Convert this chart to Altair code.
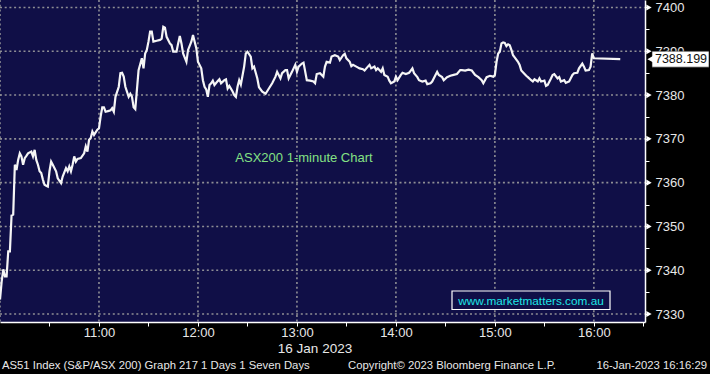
import altair as alt
import pandas as pd

# ---- data (minutes after 10:00, index level) ----
minutes = [0, 1, 2, 3, 4, 5, 6, 7, 8, 9, 10, 11, 12, 13, 14, 15, 16, 17, 19, 20,
           21, 22, 23, 24, 25, 26, 27, 28, 29, 30, 31, 32, 34, 35, 37, 38, 40, 41, 42, 43,
           44, 45, 46, 47, 49, 51, 52, 53, 54, 55, 56, 57, 59, 60, 61, 62, 63, 64, 66, 67,
           68, 69, 70, 72, 73, 74, 75, 76, 78, 79, 80, 81, 82, 83, 84, 86, 87, 88, 89, 90,
           91, 92, 93, 95, 97, 98, 99, 100, 101, 103, 104, 105, 107, 108, 109, 110, 111, 113, 114, 116,
           117, 118, 119, 120, 122, 123, 124, 125, 126, 127, 128, 129, 130, 132, 133, 134, 136, 137, 138, 139,
           141, 142, 143, 144, 145, 146, 148, 149, 150, 152, 153, 154, 156, 157, 159, 161, 163, 165, 167, 168,
           170, 171, 173, 174, 175, 177, 179, 180, 181, 183, 184, 186, 188, 190, 191, 192, 194, 196, 197, 198,
           200, 201, 203, 205, 206, 208, 209, 210, 212, 213, 214, 216, 218, 220, 221, 223, 224, 225, 227, 228,
           229, 231, 232, 233, 235, 236, 237, 239, 240, 241, 243, 244, 246, 248, 249, 250, 251, 253, 254, 256,
           258, 259, 261, 262, 264, 265, 266, 268, 269, 271, 273, 275, 277, 279, 280, 282, 284, 286, 288, 290,
           292, 293, 295, 297, 299, 300, 301, 302, 303, 304, 305, 306, 307, 308, 309, 310, 311, 312, 314, 315,
           316, 318, 319, 320, 322, 323, 324, 326, 327, 328, 330, 331, 332, 334, 335, 336, 338, 339, 340, 342,
           343, 345, 347, 348, 350, 351, 353, 354, 355, 357, 358, 359, 360, 376]
prices = [7333.3, 7337.4, 7340.2, 7338.6, 7338.6, 7344.3, 7344.3, 7352.5, 7352.7, 7364.1, 7362.9, 7365.2, 7366.7, 7366.0, 7364.1, 7365.6, 7366.1, 7366.7, 7367.1, 7366.0,
          7367.5, 7365.2, 7364.1, 7362.6, 7362.2, 7360.7, 7359.5, 7359.3, 7359.1, 7362.6, 7364.8, 7364.1, 7362.6, 7361.0, 7359.9, 7361.4, 7363.3, 7362.6, 7363.7, 7362.6,
          7364.1, 7366.0, 7364.8, 7365.4, 7365.6, 7366.7, 7368.3, 7367.1, 7369.8, 7370.2, 7371.7, 7370.9, 7372.1, 7372.4, 7375.1, 7377.2, 7377.2, 7376.2, 7376.4, 7376.5,
          7377.0, 7376.2, 7379.6, 7381.9, 7385.0, 7385.1, 7384.2, 7381.9, 7379.6, 7380.3, 7379.6, 7377.2, 7376.8, 7381.2, 7385.7, 7388.4, 7386.1, 7389.5, 7390.3, 7392.2,
          7394.5, 7394.5, 7392.2, 7392.4, 7392.6, 7392.9, 7395.6, 7395.4, 7393.3, 7391.8, 7391.4, 7389.9, 7389.9, 7391.8, 7393.5, 7391.8, 7389.5, 7387.6, 7390.3, 7392.2,
          7393.7, 7392.2, 7390.7, 7387.6, 7386.1, 7383.4, 7381.9, 7381.3, 7379.6, 7382.3, 7382.7, 7383.3, 7382.3, 7383.2, 7383.6, 7382.7, 7383.4, 7383.6, 7381.5, 7382.1,
          7380.8, 7380.0, 7379.6, 7381.9, 7383.4, 7382.4, 7386.5, 7389.5, 7389.9, 7388.8, 7386.1, 7386.5, 7383.8, 7381.8, 7380.8, 7380.3, 7381.5, 7382.7, 7384.2, 7385.3,
          7383.8, 7385.0, 7385.7, 7385.7, 7383.8, 7385.3, 7386.9, 7385.3, 7386.5, 7387.2, 7387.4, 7383.4, 7383.3, 7383.1, 7382.7, 7384.8, 7385.0, 7384.2, 7386.5, 7387.6,
          7387.4, 7388.8, 7389.1, 7388.8, 7388.0, 7389.1, 7389.4, 7388.4, 7387.6, 7386.6, 7386.9, 7386.5, 7386.1, 7385.9, 7385.6, 7386.5, 7386.9, 7386.1, 7386.5, 7385.7,
          7386.1, 7385.3, 7386.1, 7384.6, 7384.2, 7383.3, 7382.7, 7383.1, 7384.2, 7383.4, 7384.6, 7385.1, 7384.8, 7385.1, 7385.6, 7386.1, 7385.0, 7384.1, 7383.4, 7383.1,
          7383.3, 7382.5, 7382.7, 7383.1, 7384.6, 7385.3, 7384.6, 7384.1, 7383.4, 7384.1, 7384.4, 7384.6, 7384.8, 7385.7, 7385.7, 7385.6, 7385.8, 7385.6, 7384.6, 7384.1,
          7383.4, 7382.7, 7384.1, 7384.4, 7384.2, 7384.6, 7387.6, 7389.5, 7389.9, 7391.8, 7392.0, 7391.9, 7391.2, 7391.6, 7391.4, 7390.3, 7389.1, 7388.6, 7387.6, 7386.9,
          7385.6, 7384.8, 7384.4, 7384.1, 7383.4, 7383.1, 7383.6, 7383.1, 7383.8, 7383.1, 7383.3, 7382.1, 7382.3, 7383.8, 7384.6, 7384.8, 7383.8, 7384.1, 7383.1, 7383.4,
          7382.8, 7383.1, 7384.6, 7385.0, 7385.1, 7386.1, 7387.2, 7386.5, 7385.6, 7385.7, 7386.5, 7389.5, 7388.4, 7388.199]

last_price = [7388.199]
last_label = ["7388.199"]
y_major = [7330, 7340, 7350, 7360, 7370, 7380, 7390, 7400]
y_all_ticks = [7330, 7335, 7340, 7345, 7350, 7355, 7360, 7365, 7370, 7375, 7380, 7385, 7390, 7395, 7400]
grid_minutes = [0, 60, 120, 180, 240, 300, 360]          # 10:00 ... 16:00
tick_minutes = [30, 60, 90, 120, 150, 180, 210, 240, 270, 300, 330, 360, 390]
date_label = ["16 Jan 2023"]
chart_title = ["ASX200 1-minute Chart"]
website = ["www.marketmatters.com.au"]
footer_left = ["AS51 Index (S&P/ASX 200) Graph 217 1 Days 1 Seven Days"]
footer_mid = ["Copyright\u00a9 2023 Bloomberg Finance L.P."]
footer_right = ["16-Jan-2023 16:16:29"]

NAVY = "#100f47"
GRID = "#8e8e94"
FONT = "Liberation Sans"

x_scale = alt.Scale(domain=[0, 391], nice=False, zero=False)
y_scale = alt.Scale(domain=[7328.18, 7401.71], nice=False, zero=False)

x_axis = alt.Axis(values=tick_minutes, grid=False,
                  labelExpr="datum.value % 60 == 0 ? (10 + datum.value / 60) + ':00' : ''",
                  domainColor="white", domainWidth=1.5, tickColor="white", tickSize=4,
                  labelColor="#e8e8e8", labelFont=FONT, labelFontSize=13,
                  labelBaseline="middle", labelPadding=6,
                  labelFlush=False, labelOverlap=False, zindex=1)
y_axis = alt.Axis(orient="right", values=y_all_ticks, grid=False,
                  labelExpr="datum.value % 10 == 0 ? format(datum.value, 'd') : ''",
                  domainColor="white", domainWidth=1.5, tickColor="white", tickSize=4,
                  labelColor="#e8e8e8", labelFont=FONT, labelFontSize=13,
                  labelPadding=6, labelOverlap=False, zindex=0)


def X(field):
    return alt.X(field, scale=x_scale, title=None, axis=x_axis)


def Y(field):
    return alt.Y(field, scale=y_scale, title=None, axis=y_axis)


df = pd.DataFrame({"minute": minutes, "price": prices})

line = alt.Chart(df).mark_line(color="#f5f5f5", strokeWidth=2.2).encode(
    x=X("minute:Q"), y=Y("price:Q")
)

hgrid = alt.Chart(pd.DataFrame({"v": y_major})).mark_rule(
    color=GRID, strokeWidth=1.6, strokeDash=[2, 2.7]
).encode(y=Y("v:Q"), x=alt.value(0), x2=alt.value(645))

vgrid = alt.Chart(pd.DataFrame({"m": grid_minutes})).mark_rule(
    color=GRID, strokeWidth=1.6, strokeDash=[2, 2.7]
).encode(x=X("m:Q"), y=alt.value(0), y2=alt.value(322))

arrows = alt.Chart(pd.DataFrame({"v": y_major})).mark_point(
    shape="triangle-right", filled=True, color="white", opacity=1, size=38
).encode(y=Y("v:Q"), x=alt.value(649))

last_df = pd.DataFrame({"p": last_price, "t": last_label})
last_box = alt.Chart(last_df).mark_rect(
    color="white", stroke="#222", strokeWidth=0.6, yOffset=-8, y2Offset=8
).encode(x=alt.value(652), x2=alt.value(709), y=Y("p:Q"), y2="p:Q")
last_ptr = alt.Chart(last_df).mark_point(
    shape="triangle-left", filled=True, color="white", opacity=1, size=70
).encode(x=alt.value(651), y=Y("p:Q"))
last_txt = alt.Chart(last_df).mark_text(
    font=FONT, fontSize=12.5, color="#111111", align="center", baseline="middle"
).encode(x=alt.value(681), y=Y("p:Q"), text="t:N")


def label(texts, x, y, size, color, align="center"):
    return alt.Chart(pd.DataFrame({"t": texts})).mark_text(
        font=FONT, fontSize=size, color=color, align=align, baseline="middle"
    ).encode(x=alt.value(x), y=alt.value(y), text="t:N")


title_txt = label(chart_title, 304, 158, 13, "#84e184")
web_box = alt.Chart(pd.DataFrame({"t": website})).mark_rect(
    fill=NAVY, stroke="white", strokeWidth=1.2
).encode(x=alt.value(452), x2=alt.value(610), y=alt.value(291), y2=alt.value(309.5))
web_txt = label(website, 531, 300.5, 11.8, "#1ee6e6")
date_txt = label(date_label, 315, 348.5, 13.5, "#e8e8e8")
foot_l = label(footer_left, 2, 365.5, 11.3, "#e8e8e8", align="left")
foot_m = label(footer_mid, 452, 365.5, 11.3, "#e8e8e8")
foot_r = label(footer_right, 707, 365.5, 11.3, "#e8e8e8", align="right")

chart = alt.layer(
    vgrid, hgrid, line, arrows, title_txt, web_box, web_txt,
    last_box, last_ptr, last_txt, date_txt, foot_l, foot_m, foot_r
).properties(
    width=645, height=322,
    background="black",
    padding={"left": 0, "top": 0, "right": 65, "bottom": 52},
    autosize=alt.AutoSizeParams(type="none"),
).configure_view(fill=NAVY, stroke=None)

chart.save("out.html", embed_options={"renderer": "svg", "actions": False})
